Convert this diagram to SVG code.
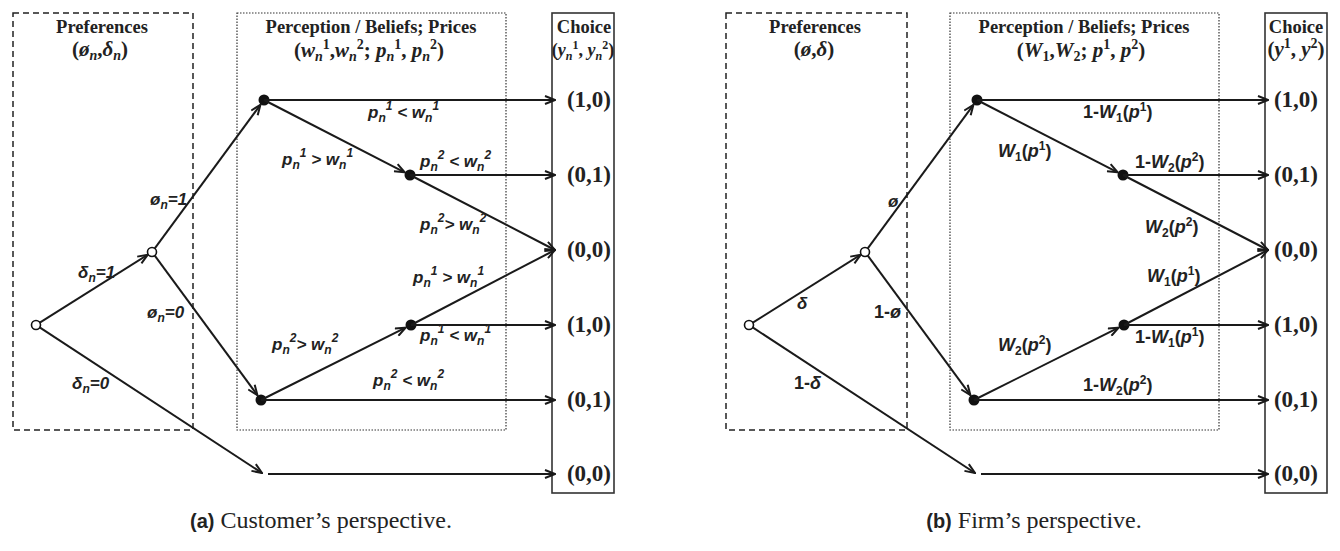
<svg xmlns="http://www.w3.org/2000/svg" width="1340" height="551" viewBox="0 0 1340 551">
<defs>
<marker id="arr" viewBox="0 0 12 10" refX="11" refY="5" markerWidth="12" markerHeight="10" markerUnits="userSpaceOnUse" orient="auto">
<path d="M1,1 L11,5 L1,9" fill="none" stroke="#1a1a1a" stroke-width="2"/>
</marker>
<style>
.pref{fill:none;stroke:#222;stroke-width:1.5;stroke-dasharray:6 4}
.perc{fill:none;stroke:#333;stroke-width:1.2;stroke-dasharray:1.5 1.5}
.choice{fill:none;stroke:#333;stroke-width:1.6}
.e{stroke:#1a1a1a;stroke-width:2;fill:none;marker-end:url(#arr)}
.open{fill:#fff;stroke:#111;stroke-width:1.6}
.dot{fill:#111}
.title{font-family:"Liberation Serif",serif;font-weight:bold;font-size:18.5px;text-anchor:middle;fill:#222}
.t2{font-size:21px}
.ti{font-style:italic}
.val{font-family:"Liberation Serif",serif;font-weight:bold;font-size:23px;text-anchor:middle;fill:#222}
.lbl{font-family:"Liberation Sans",sans-serif;font-weight:bold;font-style:italic;font-size:17px;fill:#222}
.lblb{font-family:"Liberation Sans",sans-serif;font-weight:bold;font-size:18px;fill:#222}
.it{font-style:italic}
.s{font-size:12px}
.ts{font-size:14px}
.cap{font-family:"Liberation Serif",serif;font-size:24px;fill:#222;text-anchor:middle}
.capb{font-family:"Liberation Sans",sans-serif;font-weight:bold;font-size:20px}
</style>
</defs>

<!-- Panel (a) -->
<g id="a-preferences">
<rect class="pref" x="13" y="13" width="180" height="417"/>
<text class="title" x="102" y="33">Preferences</text>
<text class="title t2" x="100" y="56">(<tspan class="ti">ø</tspan><tspan class="ti ts" dy="4">n</tspan><tspan dy="-4">,</tspan><tspan class="ti">δ</tspan><tspan class="ti ts" dy="4">n</tspan><tspan dy="-4">)</tspan></text>
</g>
<g id="a-perception">
<rect class="perc" x="237" y="13" width="269" height="417"/>
<text class="title" x="371" y="33">Perception / Beliefs; Prices</text>
<text class="title t2" x="369" y="57">(<tspan class="ti">w</tspan><tspan class="ti ts" dy="4">n</tspan><tspan class="ts" dy="-12">1</tspan><tspan dy="8">,</tspan><tspan class="ti">w</tspan><tspan class="ti ts" dy="4">n</tspan><tspan class="ts" dy="-12">2</tspan><tspan dy="8">; </tspan><tspan class="ti">p</tspan><tspan class="ti ts" dy="4">n</tspan><tspan class="ts" dy="-12">1</tspan><tspan dy="8">, </tspan><tspan class="ti">p</tspan><tspan class="ti ts" dy="4">n</tspan><tspan class="ts" dy="-12">2</tspan><tspan dy="8">)</tspan></text>
</g>
<g id="a-choice">
<rect class="choice" x="552" y="13" width="62" height="480"/>
<text class="title" x="584" y="33">Choice</text>
<text class="title" x="583" y="56" style="font-size:18px">(<tspan class="ti">y</tspan><tspan class="ti s" dy="4">n</tspan><tspan class="s" dy="-11">1</tspan><tspan dy="7">, </tspan><tspan class="ti">y</tspan><tspan class="ti s" dy="4">n</tspan><tspan class="s" dy="-11">2</tspan><tspan dy="7">)</tspan></text>
<text class="val" x="589" y="107">(1,0)</text>
<text class="val" x="589" y="182">(0,1)</text>
<text class="val" x="589" y="257">(0,0)</text>
<text class="val" x="589" y="332">(1,0)</text>
<text class="val" x="589" y="407">(0,1)</text>
<text class="val" x="589" y="481">(0,0)</text>
</g>
<g id="a-root"><circle class="open" cx="36" cy="325" r="4.5"/></g>
<g id="a-pref-node"><circle class="open" cx="152" cy="252" r="4.5"/></g>
<g id="a-n1"><circle class="dot" cx="264" cy="100" r="5.5"/></g>
<g id="a-n2"><circle class="dot" cx="410" cy="175" r="5.5"/></g>
<g id="a-n3"><circle class="dot" cx="261" cy="400" r="5.5"/></g>
<g id="a-n4"><circle class="dot" cx="411" cy="325" r="5.5"/></g>

<g id="a-connectors">
<line class="e" x1="39.4" y1="322.9" x2="147.8" y2="254.7"/>
<line class="e" x1="154.4" y1="248.8" x2="260.4" y2="104.8"/>
<line class="e" x1="154.4" y1="255.2" x2="257.4" y2="395.2"/>
<line class="e" x1="39.3" y1="327.2" x2="262" y2="473"/>
<line class="e" x1="264" y1="100" x2="555" y2="100"/>
<line class="e" x1="264" y1="100" x2="404.7" y2="172.3"/>
<line class="e" x1="410" y1="175" x2="555" y2="175"/>
<line class="e" x1="410" y1="175" x2="555" y2="250"/>
<line class="e" x1="261" y1="400" x2="405.6" y2="327.7"/>
<line class="e" x1="411" y1="325" x2="555" y2="250"/>
<line class="e" x1="411" y1="325" x2="555" y2="325"/>
<line class="e" x1="261" y1="400" x2="555" y2="400"/>
<line class="e" x1="268" y1="474" x2="555" y2="474"/>
</g>

<g id="a-labels">
<text class="lbl" x="150" y="205">ø<tspan class="s" dy="4">n</tspan><tspan dy="-4">=1</tspan></text>
<text class="lbl" x="78" y="278">δ<tspan class="s" dy="4">n</tspan><tspan dy="-4">=1</tspan></text>
<text class="lbl" x="147" y="318">ø<tspan class="s" dy="4">n</tspan><tspan dy="-4">=0</tspan></text>
<text class="lbl" x="72" y="389">δ<tspan class="s" dy="4">n</tspan><tspan dy="-4">=0</tspan></text>
<text class="lbl" x="368" y="118">p<tspan class="s" dy="4">n</tspan><tspan class="s" dy="-12">1</tspan><tspan dy="8"> &lt; w</tspan><tspan class="s" dy="4">n</tspan><tspan class="s" dy="-12">1</tspan></text>
<text class="lbl" x="282" y="165">p<tspan class="s" dy="4">n</tspan><tspan class="s" dy="-12">1</tspan><tspan dy="8"> &gt; w</tspan><tspan class="s" dy="4">n</tspan><tspan class="s" dy="-12">1</tspan></text>
<text class="lbl" x="420" y="167">p<tspan class="s" dy="4">n</tspan><tspan class="s" dy="-12">2</tspan><tspan dy="8"> &lt; w</tspan><tspan class="s" dy="4">n</tspan><tspan class="s" dy="-12">2</tspan></text>
<text class="lbl" x="420" y="230">p<tspan class="s" dy="4">n</tspan><tspan class="s" dy="-12">2</tspan><tspan dy="8">&gt; w</tspan><tspan class="s" dy="4">n</tspan><tspan class="s" dy="-12">2</tspan></text>
<text class="lbl" x="413" y="283">p<tspan class="s" dy="4">n</tspan><tspan class="s" dy="-12">1</tspan><tspan dy="8"> &gt; w</tspan><tspan class="s" dy="4">n</tspan><tspan class="s" dy="-12">1</tspan></text>
<text class="lbl" x="420" y="341">p<tspan class="s" dy="4">n</tspan><tspan class="s" dy="-12">1</tspan><tspan dy="8"> &lt; w</tspan><tspan class="s" dy="4">n</tspan><tspan class="s" dy="-12">1</tspan></text>
<text class="lbl" x="272" y="350">p<tspan class="s" dy="4">n</tspan><tspan class="s" dy="-12">2</tspan><tspan dy="8">&gt; w</tspan><tspan class="s" dy="4">n</tspan><tspan class="s" dy="-12">2</tspan></text>
<text class="lbl" x="373" y="386">p<tspan class="s" dy="4">n</tspan><tspan class="s" dy="-12">2</tspan><tspan dy="8"> &lt; w</tspan><tspan class="s" dy="4">n</tspan><tspan class="s" dy="-12">2</tspan></text>
</g>
<text class="cap" x="321" y="528"><tspan class="capb">(a)</tspan> Customer’s perspective.</text>

<!-- Panel (b) -->
<g id="b-preferences">
<rect class="pref" x="726" y="13" width="181" height="417"/>
<text class="title" x="815" y="33">Preferences</text>
<text class="title t2" x="814" y="56">(<tspan class="ti">ø</tspan>,<tspan class="ti">δ</tspan>)</text>
</g>
<g id="b-perception">
<rect class="perc" x="950" y="13" width="269" height="417"/>
<text class="title" x="1084" y="33">Perception / Beliefs; Prices</text>
<text class="title t2" x="1081" y="57">(<tspan class="ti">W</tspan><tspan class="ts" dy="4">1</tspan><tspan dy="-4">,</tspan><tspan class="ti">W</tspan><tspan class="ts" dy="4">2</tspan><tspan dy="-4">; </tspan><tspan class="ti">p</tspan><tspan class="ts" dy="-8">1</tspan><tspan dy="8">, </tspan><tspan class="ti">p</tspan><tspan class="ts" dy="-8">2</tspan><tspan dy="8">)</tspan></text>
</g>
<g id="b-choice">
<rect class="choice" x="1265" y="13" width="62" height="480"/>
<text class="title" x="1296" y="33">Choice</text>
<text class="title t2" x="1296" y="56">(<tspan class="ti">y</tspan><tspan class="ts" dy="-8">1</tspan><tspan dy="8">, </tspan><tspan class="ti">y</tspan><tspan class="ts" dy="-8">2</tspan><tspan dy="8">)</tspan></text>
<text class="val" x="1296" y="107">(1,0)</text>
<text class="val" x="1296" y="182">(0,1)</text>
<text class="val" x="1296" y="257">(0,0)</text>
<text class="val" x="1296" y="332">(1,0)</text>
<text class="val" x="1296" y="407">(0,1)</text>
<text class="val" x="1296" y="481">(0,0)</text>
</g>
<g id="b-root"><circle class="open" cx="749" cy="325" r="4.5"/></g>
<g id="b-pref-node"><circle class="open" cx="865" cy="252" r="4.5"/></g>
<g id="b-n1"><circle class="dot" cx="977" cy="100" r="5.5"/></g>
<g id="b-n2"><circle class="dot" cx="1123" cy="175" r="5.5"/></g>
<g id="b-n3"><circle class="dot" cx="974" cy="400" r="5.5"/></g>
<g id="b-n4"><circle class="dot" cx="1124" cy="325" r="5.5"/></g>

<g id="b-connectors" transform="translate(713,0)">
<line class="e" x1="39.4" y1="322.9" x2="147.8" y2="254.7"/>
<line class="e" x1="154.4" y1="248.8" x2="260.4" y2="104.8"/>
<line class="e" x1="154.4" y1="255.2" x2="257.4" y2="395.2"/>
<line class="e" x1="39.3" y1="327.2" x2="262" y2="473"/>
<line class="e" x1="264" y1="100" x2="555" y2="100"/>
<line class="e" x1="264" y1="100" x2="404.7" y2="172.3"/>
<line class="e" x1="410" y1="175" x2="555" y2="175"/>
<line class="e" x1="410" y1="175" x2="555" y2="250"/>
<line class="e" x1="261" y1="400" x2="405.6" y2="327.7"/>
<line class="e" x1="411" y1="325" x2="555" y2="250"/>
<line class="e" x1="411" y1="325" x2="555" y2="325"/>
<line class="e" x1="261" y1="400" x2="555" y2="400"/>
<line class="e" x1="268" y1="474" x2="555" y2="474"/>
</g>

<g id="b-labels">
<text class="lbl" x="888" y="207">ø</text>
<text class="lbl" x="797" y="309">δ</text>
<text class="lblb" x="874" y="318">1-<tspan class="it">ø</tspan></text>
<text class="lblb" x="794" y="389">1-<tspan class="it">δ</tspan></text>
<text class="lblb" x="1083" y="118">1-<tspan class="it">W</tspan><tspan class="s" dy="4">1</tspan><tspan dy="-4">(</tspan><tspan class="it">p</tspan><tspan class="s" dy="-7">1</tspan><tspan dy="7">)</tspan></text>
<text class="lblb" x="998" y="157"><tspan class="it">W</tspan><tspan class="s" dy="4">1</tspan><tspan dy="-4">(</tspan><tspan class="it">p</tspan><tspan class="s" dy="-7">1</tspan><tspan dy="7">)</tspan></text>
<text class="lblb" x="1135" y="168">1-<tspan class="it">W</tspan><tspan class="s" dy="4">2</tspan><tspan dy="-4">(</tspan><tspan class="it">p</tspan><tspan class="s" dy="-7">2</tspan><tspan dy="7">)</tspan></text>
<text class="lblb" x="1145" y="233"><tspan class="it">W</tspan><tspan class="s" dy="4">2</tspan><tspan dy="-4">(</tspan><tspan class="it">p</tspan><tspan class="s" dy="-7">2</tspan><tspan dy="7">)</tspan></text>
<text class="lblb" x="1147" y="282"><tspan class="it">W</tspan><tspan class="s" dy="4">1</tspan><tspan dy="-4">(</tspan><tspan class="it">p</tspan><tspan class="s" dy="-7">1</tspan><tspan dy="7">)</tspan></text>
<text class="lblb" x="1135" y="343">1-<tspan class="it">W</tspan><tspan class="s" dy="4">1</tspan><tspan dy="-4">(</tspan><tspan class="it">p</tspan><tspan class="s" dy="-7">1</tspan><tspan dy="7">)</tspan></text>
<text class="lblb" x="998" y="351"><tspan class="it">W</tspan><tspan class="s" dy="4">2</tspan><tspan dy="-4">(</tspan><tspan class="it">p</tspan><tspan class="s" dy="-7">2</tspan><tspan dy="7">)</tspan></text>
<text class="lblb" x="1083" y="391">1-<tspan class="it">W</tspan><tspan class="s" dy="4">2</tspan><tspan dy="-4">(</tspan><tspan class="it">p</tspan><tspan class="s" dy="-7">2</tspan><tspan dy="7">)</tspan></text>
</g>
<text class="cap" x="1034" y="528"><tspan class="capb">(b)</tspan> Firm’s perspective.</text>
</svg>
